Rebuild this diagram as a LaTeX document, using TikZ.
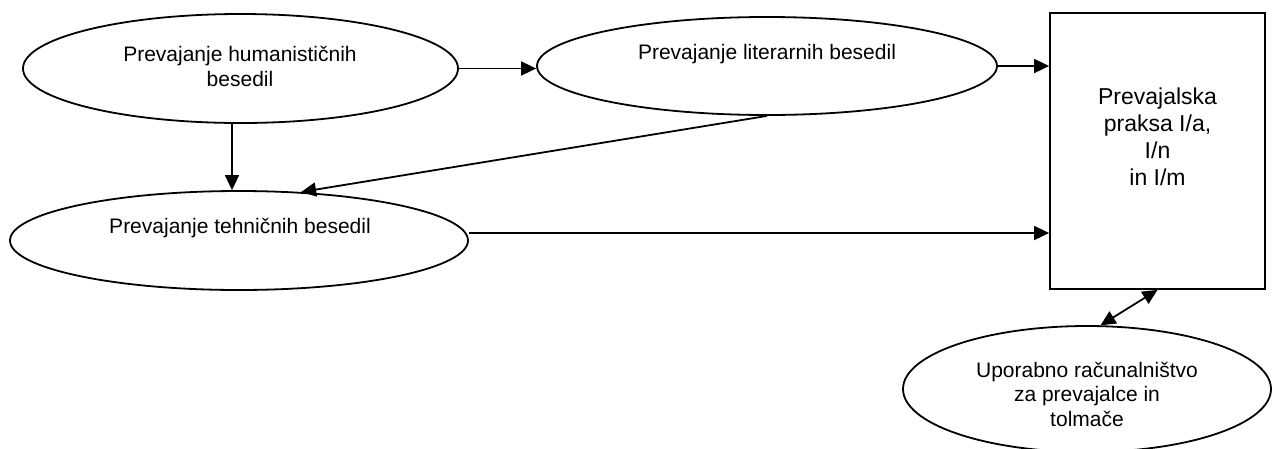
\documentclass[tikz,border=0pt]{standalone}
\usepackage{fontspec}
\setmainfont{Liberation Sans}
\usetikzlibrary{shapes.geometric,arrows.meta}
\begin{document}
\begin{tikzpicture}[x=1pt,y=-1pt,
  line width=1.8pt,
  ell/.style={draw,ellipse,inner sep=0pt},
  box/.style={draw,rectangle,inner sep=0pt},
  txt/.style={align=center,inner sep=0pt,font=\fontsize{21}{25}\selectfont},
  arr/.style={-{Triangle[length=15pt,width=14pt]}},
  darr/.style={{Triangle[length=15pt,width=14pt]}-{Triangle[length=15pt,width=14pt]}}]
\useasboundingbox (0,0) rectangle (1272,448);
\fill[white] (0,0) rectangle (1272,448);
% shapes
\node[ell,minimum width=435pt,minimum height=109pt] (e1) at (240.5,68.5) {};
\node[ell,minimum width=460pt,minimum height=98pt] (e2) at (767,66) {};
\node[ell,minimum width=458pt,minimum height=99pt] (e3) at (239,240.5) {};
\node[box,minimum width=215pt,minimum height=276pt] (r) at (1157.5,151) {};
\node[ell,minimum width=368pt,minimum height=126pt] (e4) at (1087,389) {};
% texts
\node[txt] (t1) at (240,66) {Prevajanje humanističnih\\besedil};
\node[txt] (t2) at (767,54) {Prevajanje literarnih besedil};
\node[txt] (t3) at (240,228) {Prevajanje tehničnih besedil};
\node[txt,font=\fontsize{23}{27}\selectfont] (t4) at (1157.5,137) {Prevajalska\\praksa I/a,\\I/n\\in I/m};
\node[txt,font=\fontsize{21}{24.5}\selectfont] (t5) at (1087,394) {Uporabno računalništvo\\za prevajalce in\\tolmače};
% connectors
\draw[arr] (e1.east) -- (e1.east -| e2.west);
\draw[arr] (e2.east) -- (e2.east -| r.west);
\draw[arr] (232,123) coordinate (a1) -- (a1 |- e3.north);
\draw[arr] (e2.south) -- (e3.38);
\draw[arr] (e3.east |- 0,233) coordinate (a2) -- (a2 -| r.west);
\draw[darr] (e4.78) -- (r.south);
\end{tikzpicture}
\end{document}
